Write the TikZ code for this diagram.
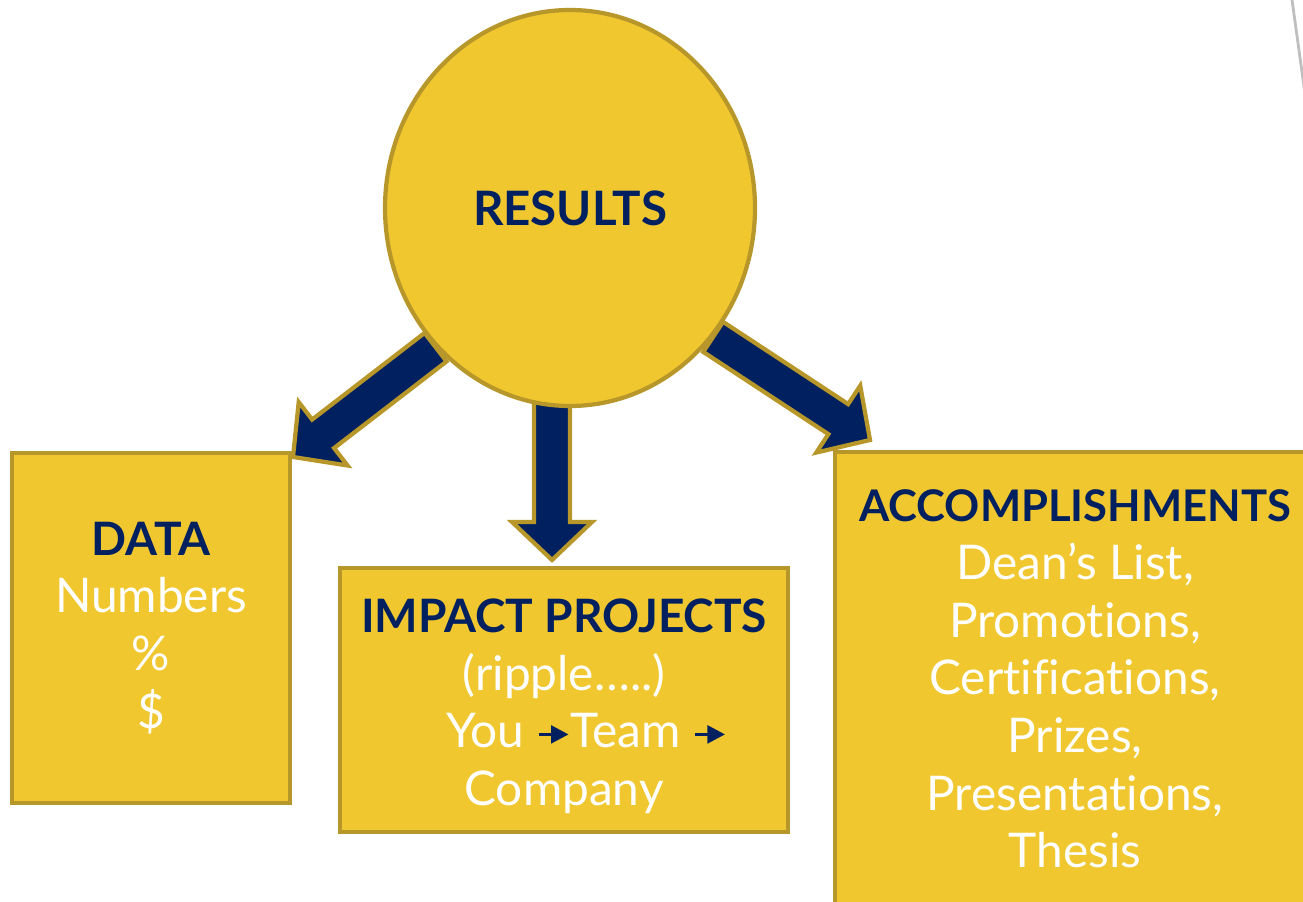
\documentclass[tikz,border=0pt]{standalone}
\usepackage{fontspec}
\setmainfont{Lato}[Ligatures=NoCommon]
\usetikzlibrary{shapes.geometric,calc,backgrounds,arrows.meta}

\definecolor{gold}{HTML}{F1C72F}
\definecolor{goldline}{HTML}{B8972A}
\definecolor{navy}{HTML}{002060}

\tikzset{
  box/.style={draw=goldline, fill=gold, line width=1.2pt, align=center,
    text=navy, font=\fontsize{13.6}{16.4}\selectfont},
  fat arrow/.style={draw=goldline, fill=navy, line width=1.2pt, line join=miter},
}

% block arrow from #1 (tail) to #2 (tip)
\newcommand{\fatarrow}[2]{%
  \coordinate (hb) at ($(#2)!0.38cm!(#1)$);
  \draw[fat arrow] ($(#1)!0.18cm!90:(#2)$) -- ($(hb)!0.18cm!90:(#2)$)
    -- ($(hb)!0.40cm!90:(#2)$) -- (#2) -- ($(hb)!0.40cm!-90:(#2)$)
    -- ($(hb)!0.18cm!-90:(#2)$) -- ($(#1)!0.18cm!-90:(#2)$) -- cycle;
}
\newcommand{\minarrow}{\tikz[baseline=-0.55ex]\draw[navy, line width=1pt,
  -{Triangle[length=5pt,width=5pt]}] (0,0) -- (0.3,0);}
% headings, a little tighter than the body text
\newcommand{\heading}[2][13.1]{{\fontsize{#1}{16.4}\selectfont\bfseries #2}}

\begin{document}
\begin{tikzpicture}
\useasboundingbox (0,0) rectangle (13.03,9.01);

\node (res) at (5.70,6.93) [box, ellipse, minimum width=3.70cm, minimum height=3.96cm, inner sep=0pt] {\heading[13.5]{RESULTS}};
\node (data) at (1.51,2.73) [box, minimum width=2.78cm, minimum height=3.50cm] {\heading{DATA}\\ \textcolor{white}{Numbers}\\ \textcolor{white}{\%}\\ \textcolor{white}{\$}};
\node (impact) at (5.64,2.01) [box, minimum width=4.48cm, minimum height=2.64cm] {\rule{0pt}{4.6mm}\heading{IMPACT PROJECTS}\\ \textcolor{white}{(ripple…..)}\\ \hspace{0.45cm}\textcolor{white}{You} \minarrow\textcolor{white}{Team} \minarrow\\ \textcolor{white}{Company}};
\node (acc) at (10.75,2.22) [box, minimum width=4.80cm, minimum height=4.54cm] {\heading[12.4]{ACCOMPLISHMENTS}\\ \textcolor{white}{Dean’s List,}\\ \textcolor{white}{Promotions,}\\ \textcolor{white}{Certifications,}\\ \textcolor{white}{Prizes,}\\ \textcolor{white}{Presentations,}\\ \textcolor{white}{Thesis}};

\coordinate (tipdata) at (2.93,4.44);
\coordinate (tipimpact) at (5.52,3.41);
\coordinate (tipacc) at (8.70,4.61);
\coordinate (tailimpact) at ($(res.south)+(-0.18,0.1)$);

\begin{scope}[on background layer]
\fatarrow{res.226}{tipdata}
\fatarrow{tailimpact}{tipimpact}
\fatarrow{res.318}{tipacc}
\end{scope}

% slide edge
\draw[black!25, line width=0.8pt] (12.92,9.01) -- (13.06,8.00);
\end{tikzpicture}
\end{document}
